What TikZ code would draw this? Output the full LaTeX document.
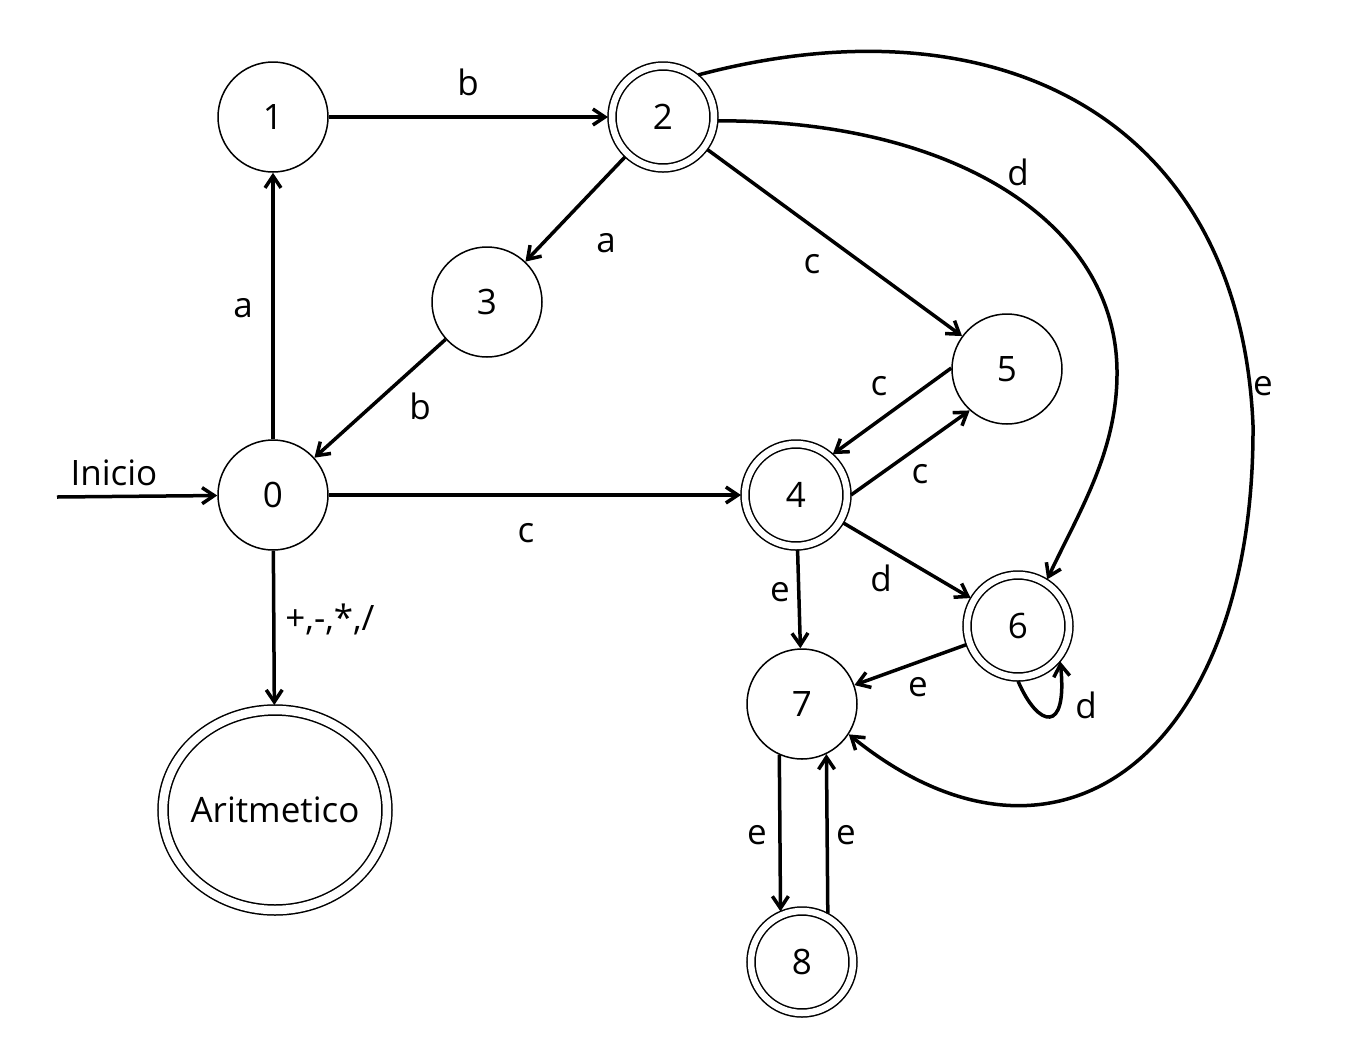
\documentclass[tikz,border=0pt]{standalone}
\usepackage{fontspec}
\setmainfont{Open Sans}
\usetikzlibrary{arrows.meta,shapes.geometric}
\begin{document}
\begin{tikzpicture}[x=0.5pt,y=-0.5pt,
  font=\fontsize{17.5}{21}\selectfont,
  state/.style={circle,draw,line width=0.75pt,minimum size=55pt,inner sep=0pt},
  accept/.style={circle,draw,line width=0.75pt,double,double distance=3.25pt,
    minimum size=51pt,inner sep=0pt,outer sep=2pt},
  trans/.style={line width=1.75pt,-{Straight Barb[length=6pt,width=8pt,line width=1.75pt]}},
  lbl/.style={inner sep=0pt}]
\useasboundingbox (0,0) rectangle (1357,1062);

% states
\node[state]  (n0) at (273,495) {0};
\node[state]  (n1) at (273,117) {1};
\node[accept] (n2) at (663,117) {2};
\node[state]  (n3) at (487,302) {3};
\node[accept] (n4) at (796,495) {4};
\node[state]  (n5) at (1007,369) {5};
\node[accept] (n6) at (1018,626) {6};
\node[state]  (n7) at (802,704) {7};
\node[accept] (n8) at (802,962) {8};
\node[ellipse,draw,line width=0.75pt,double,double distance=4.25pt,
  minimum width=112pt,minimum height=100pt,inner sep=0pt,outer sep=2.5pt]
  (ar) at (275,810) {\makebox[0pt]{Aritmetico}};

% initial arrow
\coordinate (start) at (57,497);
\draw[trans] (start) -- (n0);
\node[lbl] (lInicio) at (114,473) {Inicio};

% transitions
\draw[trans] (n0) -- (n1);
\draw[trans] (n1) -- (n2);
\draw[trans] (n2) -- (n3);
\draw[trans] (n3) -- (n0);
\draw[trans] (n2) -- (n5);
\draw[trans] (n0) -- (n4);
\draw[trans] (n5.179) -- (n4.48);
\draw[trans] (n4.0) -- (n5.228);
\draw[trans] (n4) -- (n6);
\draw[trans] (n4) -- (n7);
\draw[trans] (n6) -- (n7);
\draw[trans] (n7.-114) -- (n8.113);
\draw[trans] (n8.62) -- (n7.-64);
\draw[trans] (n0) -- (ar);
\draw[trans] (n6.-90) .. controls (1038,728) and (1068,735) .. (n6.-40);
\draw[trans] (n2.-4) .. controls (950,120) and (1115,220) .. (1117,370)
  .. controls (1118,450) and (1080,510) .. (n6.58);
\coordinate (kink) at (1253,425);
\draw[trans] (n2.50) .. controls (1000,-5) and (1240,120) .. (kink)
  .. controls (1255,750) and (1060,905) .. (n7.-33);

% labels
\node[lbl] (la01) at (243,308) {a};
\node[lbl] (lb12) at (468,82) {b};
\node[lbl] (la23) at (606,243) {a};
\node[lbl] (lb30) at (420,406) {b};
\node[lbl] (lc25) at (812,264) {c};
\node[lbl] (lc04) at (526,533) {c};
\node[lbl] (lc54) at (879,386) {c};
\node[lbl] (lc45) at (920,474) {c};
\node[lbl] (ld46) at (881,578) {d};
\node[lbl] (le47) at (780,592) {e};
\node[lbl] (le67) at (918,687) {e};
\node[lbl] (ld66) at (1086,705) {d};
\node[lbl] (le78) at (757,835) {e};
\node[lbl] (le87) at (846,835) {e};
\node[lbl] (lop)  at (330,619) {+,-,*,/};
\node[lbl] (ld26) at (1018,172) {d};
\node[lbl] (le27) at (1263,386) {e};
\end{tikzpicture}
\end{document}
